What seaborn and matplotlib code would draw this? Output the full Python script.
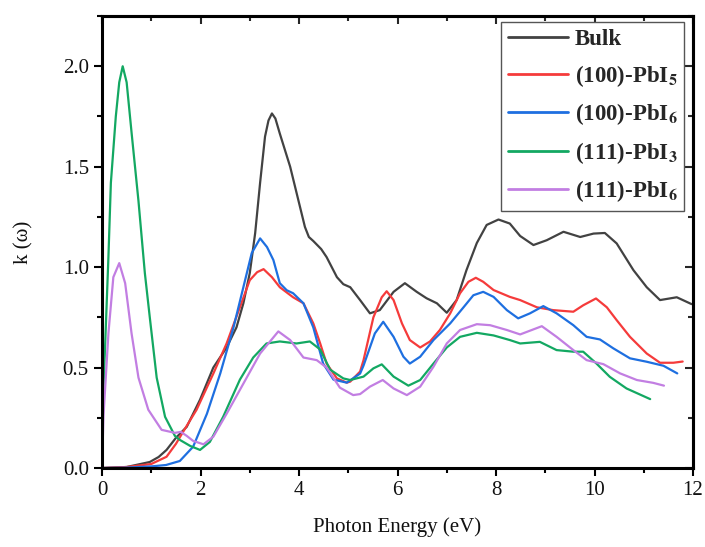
import numpy as np
import pandas as pd
import matplotlib
matplotlib.use("Agg")
import matplotlib.pyplot as plt
import seaborn as sns
from matplotlib.ticker import MultipleLocator

# ---------------- data ----------------
bulk_E = [0, 0.5, 0.97, 1.15, 1.31, 1.5, 1.72, 1.99, 2.26, 2.53, 2.73, 2.87, 3.0, 3.11, 3.21, 3.31,
          3.38, 3.45, 3.52, 3.61, 3.82, 3.99, 4.12, 4.2, 4.29, 4.45, 4.56, 4.77, 4.9, 5.04, 5.24,
          5.44, 5.64, 5.92, 6.15, 6.39, 6.59, 6.80, 7.0, 7.2, 7.4, 7.61, 7.81, 8.05, 8.28, 8.49,
          8.76, 9.03, 9.37, 9.71, 9.98, 10.21, 10.45, 10.79, 11.06, 11.33, 11.67, 11.97]
bulk_k = [0, 0.005, 0.03, 0.055, 0.09, 0.15, 0.205, 0.34, 0.50, 0.60, 0.70, 0.82, 0.97, 1.17, 1.42, 1.65,
          1.73, 1.765, 1.74, 1.665, 1.50, 1.33, 1.20, 1.15, 1.13, 1.09, 1.05, 0.95, 0.915, 0.90, 0.836,
          0.77, 0.786, 0.877, 0.92, 0.877, 0.845, 0.82, 0.773, 0.836, 0.985, 1.12, 1.21, 1.237, 1.217, 1.155,
          1.11, 1.134, 1.176, 1.15, 1.167, 1.17, 1.118, 0.985, 0.90, 0.836, 0.85, 0.816]

pbi5_100_E = [0, 0.5, 1.0, 1.31, 1.5, 1.72, 1.92, 2.26, 2.53, 2.80, 3.0, 3.15, 3.28, 3.45, 3.61, 3.88,
              4.09, 4.29, 4.43, 4.56, 4.77, 4.97, 5.04, 5.24, 5.31, 5.51, 5.68, 5.78, 5.92, 6.09, 6.25,
              6.46, 6.66, 6.86, 7.07, 7.27, 7.44, 7.59, 7.74, 7.95, 8.28, 8.49, 8.83, 9.16, 9.57, 9.77,
              10.03, 10.25, 10.45, 10.72, 11.06, 11.33, 11.60, 11.79]
pbi5_100_k = [0, 0.005, 0.02, 0.056, 0.12, 0.21, 0.29, 0.47, 0.62, 0.80, 0.935, 0.975, 0.99, 0.95, 0.90, 0.85,
              0.82, 0.72, 0.62, 0.52, 0.446, 0.425, 0.43, 0.48, 0.537, 0.75, 0.85, 0.88, 0.836, 0.72, 0.637,
              0.60, 0.63, 0.687, 0.77, 0.87, 0.927, 0.947, 0.927, 0.886, 0.852, 0.836, 0.80, 0.786, 0.778, 0.81,
              0.844, 0.80, 0.736, 0.653, 0.57, 0.524, 0.524, 0.53]

pbi6_100_E = [0, 0.5, 1.0, 1.3, 1.58, 1.85, 2.13, 2.40, 2.67, 2.87, 3.04, 3.21, 3.35, 3.48, 3.61, 3.75,
              3.88, 4.09, 4.29, 4.49, 4.70, 4.97, 5.24, 5.31, 5.54, 5.71, 5.92, 6.12, 6.25, 6.46, 6.73,
              7.07, 7.34, 7.54, 7.74, 7.95, 8.22, 8.45, 8.69, 8.96, 9.23, 9.57, 9.84, 10.11, 10.38,
              10.72, 11.06, 11.40, 11.68]
pbi6_100_k = [0, 0.002, 0.008, 0.015, 0.035, 0.106, 0.27, 0.47, 0.70, 0.90, 1.07, 1.143, 1.10, 1.035, 0.92, 0.885,
              0.87, 0.82, 0.70, 0.52, 0.44, 0.425, 0.47, 0.51, 0.67, 0.728, 0.653, 0.554, 0.52, 0.554, 0.637,
              0.72, 0.80, 0.86, 0.877, 0.852, 0.786, 0.745, 0.77, 0.806, 0.77, 0.711, 0.653, 0.64, 0.596,
              0.546, 0.529, 0.509, 0.471]

pbi3_111_E = [0, 0.03, 0.06, 0.13, 0.18, 0.28, 0.35, 0.42, 0.5, 0.6, 0.74, 0.87, 0.97, 1.11, 1.28, 1.48,
              1.58, 1.79, 1.99, 2.19, 2.46, 2.80, 3.07, 3.34, 3.61, 3.95, 4.22, 4.43, 4.63, 4.90, 5.04,
              5.31, 5.51, 5.68, 5.92, 6.22, 6.46, 6.73, 7.0, 7.27, 7.61, 7.95, 8.28, 8.49, 8.89, 9.23,
              9.57, 9.77, 10.04, 10.31, 10.65, 11.13]
pbi3_111_k = [0.15, 0.4, 0.59, 1.05, 1.42, 1.75, 1.92, 2.0, 1.92, 1.67, 1.33, 0.97, 0.75, 0.45, 0.255, 0.16,
              0.14, 0.11, 0.09, 0.13, 0.255, 0.44, 0.55, 0.62, 0.63, 0.62, 0.63, 0.59, 0.49, 0.446, 0.438,
              0.455, 0.496, 0.516, 0.455, 0.41, 0.438, 0.52, 0.60, 0.653, 0.673, 0.66, 0.637, 0.62, 0.628, 0.587,
              0.579, 0.579, 0.52, 0.454, 0.396, 0.343]

pbi6_111_E = [0, 0.03, 0.13, 0.23, 0.35, 0.47, 0.60, 0.74, 0.94, 1.21, 1.48, 1.6, 1.72, 1.85, 2.06, 2.26,
              2.53, 2.87, 3.21, 3.58, 3.82, 4.09, 4.36, 4.56, 4.83, 5.10, 5.24, 5.44, 5.70, 5.92, 6.19,
              6.46, 6.73, 7.0, 7.27, 7.61, 7.88, 8.22, 8.49, 8.93, 9.23, 9.57, 9.84, 10.18, 10.52, 10.86,
              11.19, 11.41]
pbi6_111_k = [0, 0.26, 0.67, 0.95, 1.02, 0.92, 0.67, 0.45, 0.29, 0.19, 0.175, 0.18, 0.16, 0.135, 0.118, 0.156,
              0.27, 0.42, 0.57, 0.68, 0.637, 0.55, 0.537, 0.50, 0.40, 0.363, 0.368, 0.405, 0.438, 0.396, 0.363,
              0.405, 0.504, 0.62, 0.687, 0.716, 0.711, 0.687, 0.665, 0.706, 0.653, 0.587, 0.537, 0.517, 0.471, 0.438,
              0.424, 0.41]

series_names = ["Bulk",
                r"(100)-PbI$_\mathbf{5}$",
                r"(100)-PbI$_\mathbf{6}$",
                r"(111)-PbI$_\mathbf{3}$",
                r"(111)-PbI$_\mathbf{6}$"]
series_E = [bulk_E, pbi5_100_E, pbi6_100_E, pbi3_111_E, pbi6_111_E]
series_k = [bulk_k, pbi5_100_k, pbi6_100_k, pbi3_111_k, pbi6_111_k]
series_colors = ["#424242", "#f53b3b", "#1e6fe0", "#13a862", "#c27ee2"]

x_ticks = [0, 2, 4, 6, 8, 10, 12]
y_ticks = [0.0, 0.5, 1.0, 1.5, 2.0]

# ---------------- long-form table ----------------
frames = []
for name, E, k in zip(series_names, series_E, series_k):
    frames.append(pd.DataFrame({"E": E, "k": k, "series": name}))
df = pd.concat(frames, ignore_index=True)

# ---------------- style ----------------
sns.set_theme(style="ticks")
plt.rcParams["font.family"] = ["Liberation Serif", "DejaVu Serif"]
plt.rcParams["mathtext.fontset"] = "stix"

fig = plt.figure(figsize=(7.05, 5.47), dpi=100)
ax = fig.add_axes([0.1447, 0.1444, 0.8383, 0.8263])

palette = dict(zip(series_names, series_colors))
sns.lineplot(data=df, x="E", y="k", hue="series", hue_order=series_names, palette=palette,
             units="series", estimator=None, sort=False, linewidth=1.6, ax=ax, legend=True)

ax.set_xlim(0, 12)
ax.set_ylim(0, 2.25)
ax.set_xticks(x_ticks)
ax.set_yticks(y_ticks)
ax.set_xticklabels([str(t) for t in x_ticks])
ax.set_yticklabels([f"{t:.1f}" for t in y_ticks])
ax.xaxis.set_minor_locator(MultipleLocator(1))
ax.yaxis.set_minor_locator(MultipleLocator(0.25))

for s in ax.spines.values():
    s.set_visible(True)
    s.set_linewidth(2.2)
    s.set_color("black")

ax.tick_params(axis="both", which="major", length=6, width=1.5, color="black",
               labelsize=15, labelcolor="#111111")
ax.tick_params(axis="both", which="minor", length=3.5, width=1.5, color="black")
ax.tick_params(axis="x", which="both", direction="out", top=False)
ax.tick_params(axis="y", which="both", direction="out", right=False)

# inward ticks on the top and right
axt = ax.secondary_xaxis("top")
axt.set_xticks(x_ticks)
axt.xaxis.set_minor_locator(MultipleLocator(1))
axt.tick_params(which="major", direction="in", length=6, width=1.5, labeltop=False)
axt.tick_params(which="minor", direction="in", length=3.5, width=1.5)
axt.spines["top"].set_linewidth(2.2)
axr = ax.secondary_yaxis("right")
axr.set_yticks(y_ticks)
axr.yaxis.set_minor_locator(MultipleLocator(0.25))
axr.tick_params(which="major", direction="in", length=6, width=1.5, labelright=False)
axr.tick_params(which="minor", direction="in", length=3.5, width=1.5)
axr.spines["right"].set_linewidth(2.2)

ax.set_xlabel("Photon Energy (eV)", fontsize=15, color="#111111", labelpad=12)
ax.set_ylabel("k (\u03c9)", fontsize=15, color="#111111", labelpad=21)

leg = ax.legend(loc="upper right", bbox_to_anchor=(0.985, 0.986), frameon=True, fancybox=False,
                edgecolor="#555555", framealpha=1, handlelength=2.6, handletextpad=0.3,
                labelspacing=0.55, borderpad=0.3, borderaxespad=0.0,
                prop={"family": "Liberation Serif", "weight": "bold", "size": 16.5})
leg.get_frame().set_linewidth(1.0)
for line in leg.get_lines():
    line.set_linewidth(2.0)

fig.savefig("out.png", dpi=100)
